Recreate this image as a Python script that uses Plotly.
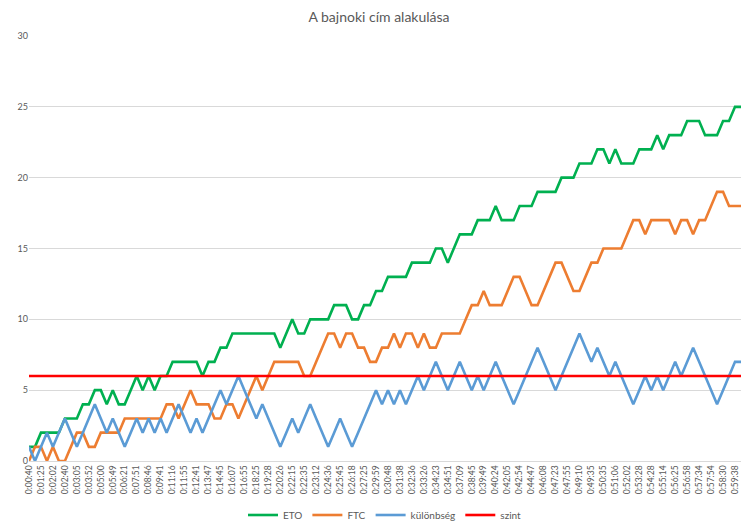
import plotly.graph_objects as go

title = "A bajnoki cím alakulása"

tick_labels = [
    "0:00:40", "0:01:25", "0:02:02", "0:02:40", "0:03:05", "0:03:52", "0:05:00", "0:05:49",
    "0:06:21", "0:07:51", "0:08:46", "0:09:41", "0:11:16", "0:11:55", "0:12:41", "0:13:47",
    "0:14:45", "0:16:07", "0:16:55", "0:18:25", "0:19:28", "0:20:26", "0:22:15", "0:22:35",
    "0:23:12", "0:24:36", "0:25:45", "0:26:18", "0:27:25", "0:29:59", "0:30:48", "0:31:38",
    "0:32:36", "0:33:26", "0:34:23", "0:34:51", "0:37:09", "0:38:45", "0:39:49", "0:40:24",
    "0:42:05", "0:42:54", "0:44:47", "0:46:08", "0:47:23", "0:47:55", "0:49:10", "0:49:35",
    "0:50:35", "0:51:06", "0:52:02", "0:53:28", "0:54:28", "0:55:14", "0:56:25", "0:56:58",
    "0:57:34", "0:57:54", "0:58:30", "0:59:38",
]

eto = [
    1, 1, 2, 2, 2, 2, 3, 3, 3, 4,
    4, 5, 5, 4, 5, 4, 4, 5, 6, 5,
    6, 5, 6, 6, 7, 7, 7, 7, 7, 6,
    7, 7, 8, 8, 9, 9, 9, 9, 9, 9,
    9, 9, 8, 9, 10, 9, 9, 10, 10, 10,
    10, 11, 11, 11, 10, 10, 11, 11, 12, 12,
    13, 13, 13, 13, 14, 14, 14, 14, 15, 15,
    14, 15, 16, 16, 16, 17, 17, 17, 18, 17,
    17, 17, 18, 18, 18, 19, 19, 19, 19, 20,
    20, 20, 21, 21, 21, 22, 22, 21, 22, 21,
    21, 21, 22, 22, 22, 23, 22, 23, 23, 23,
    24, 24, 24, 23, 23, 23, 24, 24, 25, 25,
]

ftc = [
    0, 1, 1, 0, 1, 0, 0, 1, 2, 2,
    1, 1, 2, 2, 2, 2, 3, 3, 3, 3,
    3, 3, 3, 4, 4, 3, 4, 5, 4, 4,
    4, 3, 3, 4, 4, 3, 4, 5, 6, 5,
    6, 7, 7, 7, 7, 7, 6, 6, 7, 8,
    9, 9, 8, 9, 9, 8, 8, 7, 7, 8,
    8, 9, 8, 9, 9, 8, 9, 8, 8, 9,
    9, 9, 9, 10, 11, 11, 12, 11, 11, 11,
    12, 13, 13, 12, 11, 11, 12, 13, 14, 14,
    13, 12, 12, 13, 14, 14, 15, 15, 15, 15,
    16, 17, 17, 16, 17, 17, 17, 17, 16, 17,
    17, 16, 17, 17, 18, 19, 19, 18, 18, 18,
]

kulonbseg = [
    1, 0, 1, 2, 1, 2, 3, 2, 1, 2,
    3, 4, 3, 2, 3, 2, 1, 2, 3, 2,
    3, 2, 3, 2, 3, 4, 3, 2, 3, 2,
    3, 4, 5, 4, 5, 6, 5, 4, 3, 4,
    3, 2, 1, 2, 3, 2, 3, 4, 3, 2,
    1, 2, 3, 2, 1, 2, 3, 4, 5, 4,
    5, 4, 5, 4, 5, 6, 5, 6, 7, 6,
    5, 6, 7, 6, 5, 6, 5, 6, 7, 6,
    5, 4, 5, 6, 7, 8, 7, 6, 5, 6,
    7, 8, 9, 8, 7, 8, 7, 6, 7, 6,
    5, 4, 5, 6, 5, 6, 5, 6, 7, 6,
    7, 8, 7, 6, 5, 4, 5, 6, 7, 7,
]

szint = [
    6, 6, 6, 6, 6, 6, 6, 6, 6, 6,
    6, 6, 6, 6, 6, 6, 6, 6, 6, 6,
    6, 6, 6, 6, 6, 6, 6, 6, 6, 6,
    6, 6, 6, 6, 6, 6, 6, 6, 6, 6,
    6, 6, 6, 6, 6, 6, 6, 6, 6, 6,
    6, 6, 6, 6, 6, 6, 6, 6, 6, 6,
    6, 6, 6, 6, 6, 6, 6, 6, 6, 6,
    6, 6, 6, 6, 6, 6, 6, 6, 6, 6,
    6, 6, 6, 6, 6, 6, 6, 6, 6, 6,
    6, 6, 6, 6, 6, 6, 6, 6, 6, 6,
    6, 6, 6, 6, 6, 6, 6, 6, 6, 6,
    6, 6, 6, 6, 6, 6, 6, 6, 6, 6,
]

x = list(range(len(eto)))
tickvals = x[::2]

FONT = "Lato, 'Open Sans', sans-serif"
GREY = "#595959"

fig = go.Figure()
series = [
    ("ETO", eto, "#00b050"),
    ("FTC", ftc, "#ed7d31"),
    ("különbség", kulonbseg, "#5b9bd5"),
    ("szint", szint, "#ff0000"),
]
for name, vals, color in series:
    fig.add_trace(go.Scatter(
        x=x, y=vals, mode="lines", name=name,
        line=dict(color=color, width=2.6),
    ))

# page has an 8px body margin, so the figure is sized/offset to compensate
fig.update_layout(
    width=742, height=520,
    margin=dict(l=21, r=9, t=28, b=67, autoexpand=False),
    paper_bgcolor="white", plot_bgcolor="white",
    font=dict(family=FONT, color=GREY, size=9),
    title=dict(text=title, x=0.5, xanchor="center", y=0.982, yanchor="middle",
               font=dict(family=FONT, size=14, color=GREY)),
    showlegend=True,
    legend=dict(orientation="h", x=0.5, xanchor="center",
                yref="container", y=0.025, yanchor="middle",
                font=dict(family=FONT, size=10, color=GREY),
                itemwidth=30, traceorder="normal"),
    xaxis=dict(
        range=[0, len(eto) - 1], automargin=False,
        tickmode="array", tickvals=tickvals, ticktext=tick_labels,
        tickangle=-90, tickfont=dict(size=8.5, color=GREY),
        showgrid=False, zeroline=False,
        showline=True, linecolor="#d9d9d9", linewidth=1,
        ticks="", fixedrange=True,
    ),
    yaxis=dict(
        range=[0, 30], dtick=5, tick0=0, automargin=False,
        showgrid=True, gridcolor="#d9d9d9", gridwidth=1,
        zeroline=False, showline=False,
        tickfont=dict(size=9, color=GREY), ticks="",
    ),
)

fig.write_html("out.html")
